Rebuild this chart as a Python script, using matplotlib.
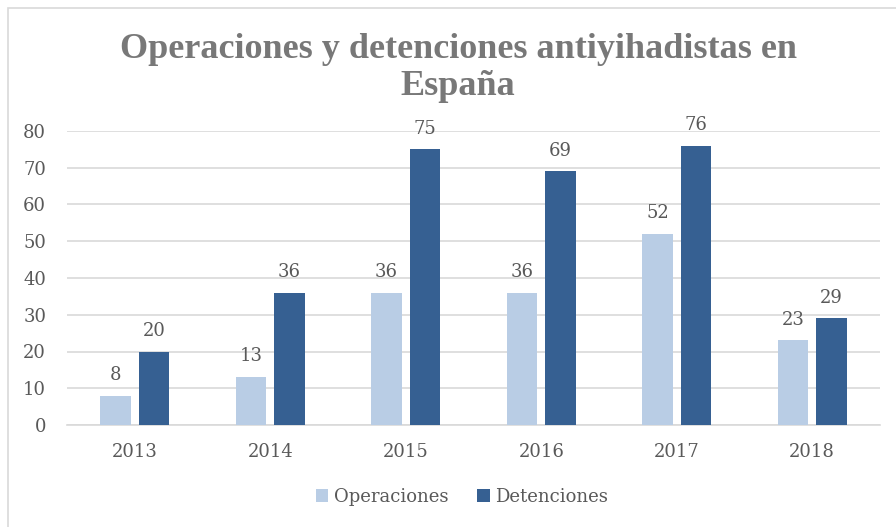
import matplotlib.pyplot as plt
import numpy as np
from matplotlib.patches import Rectangle

years = ['2013', '2014', '2015', '2016', '2017', '2018']
operaciones = [8, 13, 36, 36, 52, 23]
detenciones = [20, 36, 75, 69, 76, 29]

light = '#B9CDE5'
dark = '#366092'
grey_txt = '#595959'

plt.rcParams['font.family'] = ['DejaVu Serif']

fig = plt.figure(figsize=(8.96, 5.27), dpi=100)
# chart area border
fig.patches.append(Rectangle((8 / 896, -0.1), 1.2, 1 - 8 / 527 + 0.1,
                             transform=fig.transFigure, fill=False,
                             edgecolor='#D9D9D9', linewidth=1.2))

ax = fig.add_axes([67 / 896, 1 - 425 / 527, 813 / 896, 294 / 527])
x = np.arange(len(years))
w = 0.225
off = 0.142
b1 = ax.bar(x - off, operaciones, w, color=light, label='Operaciones', zorder=3)
b2 = ax.bar(x + off, detenciones, w, color=dark, label='Detenciones', zorder=3)

for bars, vals in ((b1, operaciones), (b2, detenciones)):
    for r, v in zip(bars, vals):
        ax.annotate(str(v), (r.get_x() + r.get_width() / 2, v),
                    xytext=(0, 15), textcoords='offset points',
                    ha='center', va='center', fontsize=13, color=grey_txt)

ax.set_xlim(-0.5, len(years) - 0.5)
ax.set_ylim(0, 80)
ax.set_yticks(range(0, 81, 10))
ax.set_xticks(x)
ax.set_xticklabels(years)
ax.tick_params(axis='y', length=0, pad=15, labelsize=13, labelcolor=grey_txt)
ax.tick_params(axis='x', length=0, pad=13, labelsize=13, labelcolor=grey_txt)
ax.grid(axis='y', color='#D9D9D9', linewidth=1.2, zorder=0)
for s in ['top', 'right', 'left']:
    ax.spines[s].set_visible(False)
ax.spines['bottom'].set_color('#D9D9D9')
ax.spines['bottom'].set_linewidth(1.2)

fig.text(458 / 896, 1 - 68 / 527, 'Operaciones y detenciones antiyihadistas en\nEspaña',
         ha='center', va='center', fontsize=26, fontweight='bold',
         color='#787878', family=['Liberation Serif'], linespacing=1.15)

leg = fig.legend(loc='center', bbox_to_anchor=(462 / 896, 1 - 497 / 527), ncol=2,
                 frameon=False, fontsize=13, handlelength=0.7, handleheight=0.7,
                 handletextpad=0.3, columnspacing=1.6)
for t in leg.get_texts():
    t.set_color(grey_txt)

fig.savefig('out.png', dpi=100)
